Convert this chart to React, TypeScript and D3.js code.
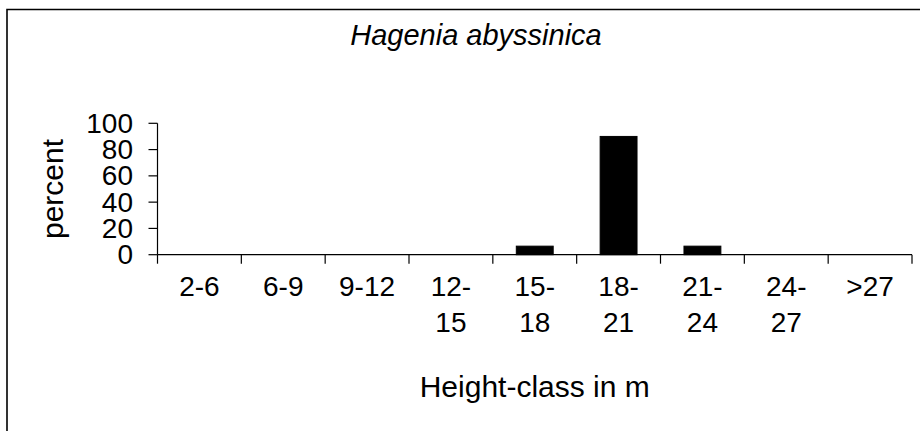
import React from "react";
import * as d3 from "d3";

const categories = ["2-6", "6-9", "9-12", "12-15", "15-18", "18-21", "21-24", "24-27", ">27"];
const percentValues = [0, 0, 0, 0, 6.5, 90, 6.5, 0, 0];
const yTicks = [0, 20, 40, 60, 80, 100];
const titleText = "Hagenia abyssinica";
const xTitle = "Height-class in m";
const yTitle = "percent";

const W = 920;
const H = 431;
const FONT = "'Liberation Sans', Arial, Helvetica, sans-serif";

function splitLabel(s: string): string[] {
  const i = s.indexOf("-");
  if (i > 0 && i < s.length - 1 && s.length > 4) return [s.slice(0, i + 1), s.slice(i + 1)];
  return [s];
}

export default function App() {
  const x0 = 157.5, x1 = 912;
  const yBase = 254.7, yTop = 123.3;
  const x = d3.scaleBand<string>().domain(categories).range([x0, x1]).paddingInner(0.56).paddingOuter(0.28);
  const y = d3.scaleLinear().domain([0, 100]).range([yBase, yTop]);
  const step = (x1 - x0) / categories.length;
  const bounds = d3.range(categories.length + 1).map((i) => x0 + i * step);

  return (
    <svg width={W} height={H} style={{ position: "absolute", left: 0, top: 0, background: "#fff" }} fontFamily={FONT}>
      <rect x={0} y={0} width={W} height={H} fill="#fff" />
      <path d={`M7,${H + 5} L7,9.5 L${W + 5},9.5`} fill="none" stroke="#000" strokeWidth={1.6} />
      <text x={476} y={45} fontSize={29} fontStyle="italic" textAnchor="middle" fill="#000">{titleText}</text>

      {/* bars */}
      {categories.map((c, i) => percentValues[i] > 0 ? (
        <rect key={c} x={x(c)} y={y(percentValues[i])} width={x.bandwidth()} height={yBase - y(percentValues[i])} fill="#000" stroke="#000" strokeWidth={1} />
      ) : null)}

      {/* y axis */}
      <line x1={x0} x2={x0} y1={yTop} y2={yBase} stroke="#000" strokeWidth={1.2} />
      {yTicks.map((t) => (
        <g key={t}>
          <line x1={x0 - 9} x2={x0} y1={y(t)} y2={y(t)} stroke="#000" strokeWidth={1.2} />
          <text x={133} y={y(t) + 9.5} fontSize={28} textAnchor="end" fill="#000">{t}</text>
        </g>
      ))}
      <text transform={`translate(63,${(yTop + yBase) / 2}) rotate(-90)`} fontSize={30} textAnchor="middle" fill="#000">{yTitle}</text>

      {/* x axis */}
      <line x1={x0} x2={x1} y1={yBase} y2={yBase} stroke="#000" strokeWidth={1.2} />
      {bounds.map((b, i) => (
        <line key={i} x1={b} x2={b} y1={yBase} y2={yBase + 9} stroke="#000" strokeWidth={1.2} />
      ))}
      {categories.map((c) => {
        const lines = splitLabel(c);
        const cx = (x(c) as number) + x.bandwidth() / 2;
        return (
          <text key={c} x={cx} y={296} fontSize={28} textAnchor="middle" fill="#000">
            {lines.map((l, j) => (
              <tspan key={j} x={cx} dy={j === 0 ? 0 : 36}>{l}</tspan>
            ))}
          </text>
        );
      })}
      <text x={(x0 + x1) / 2} y={397} fontSize={30} textAnchor="middle" fill="#000">{xTitle}</text>
    </svg>
  );
}
